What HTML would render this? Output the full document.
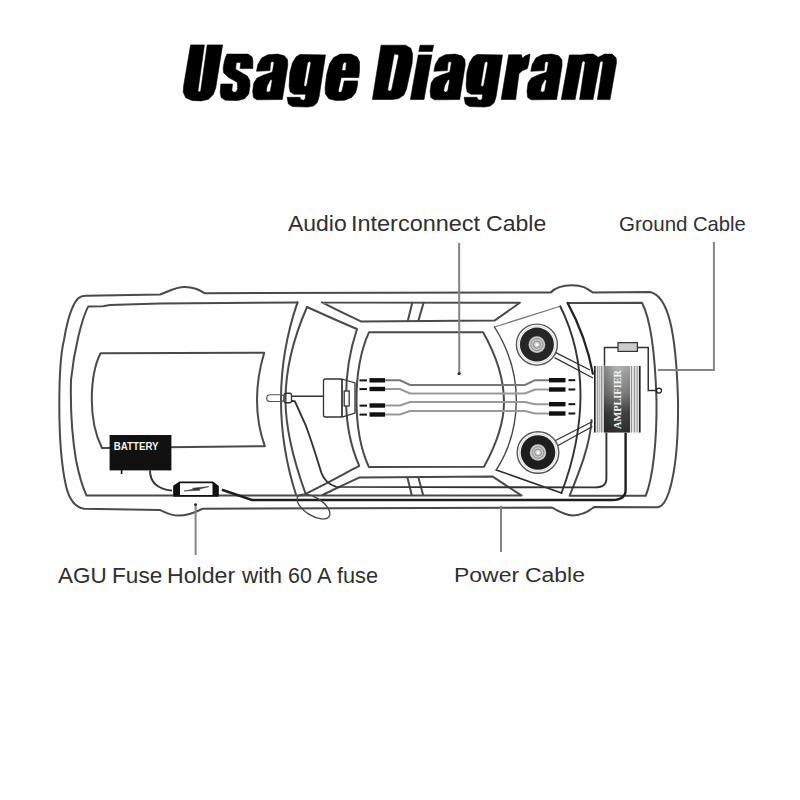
<!DOCTYPE html>
<html><head><meta charset="utf-8">
<style>
html,body{margin:0;padding:0;background:#fff;width:800px;height:800px;overflow:hidden}
.w{position:absolute;font-family:"Liberation Sans",sans-serif;color:#303030;white-space:nowrap;line-height:1;transform-origin:0 0}
svg{position:absolute;left:0;top:0}
</style></head><body>
<div class="w" style="left:287.75px;top:212.9px;font-size:21.23px;transform:scaleX(1.081)">Audio</div>
<div class="w" style="left:350.99px;top:212.9px;font-size:21.23px;transform:scaleX(1.105)">Interconnect</div>
<div class="w" style="left:485.75px;top:212.9px;font-size:21.23px;transform:scaleX(1.086)">Cable</div>
<div class="w" style="left:618.97px;top:214.0px;font-size:20.87px;transform:scaleX(0.985)">Ground</div>
<div class="w" style="left:692.99px;top:214.0px;font-size:20.87px;transform:scaleX(0.970)">Cable</div>
<div class="w" style="left:58.00px;top:564.61px;font-size:21.16px;transform:scaleX(1.063)">AGU</div>
<div class="w" style="left:111.69px;top:564.61px;font-size:21.16px;transform:scaleX(1.069)">Fuse</div>
<div class="w" style="left:167.15px;top:564.61px;font-size:21.16px;transform:scaleX(1.094)">Holder</div>
<div class="w" style="left:241.50px;top:564.61px;font-size:21.16px;transform:scaleX(1.064)">with</div>
<div class="w" style="left:287.68px;top:564.61px;font-size:21.16px;transform:scaleX(1.012)">60</div>
<div class="w" style="left:316.90px;top:564.61px;font-size:21.16px;transform:scaleX(1.028)">A</div>
<div class="w" style="left:337.28px;top:564.61px;font-size:21.16px;transform:scaleX(1.027)">fuse</div>
<div class="w" style="left:453.66px;top:564.5px;font-size:20.58px;transform:scaleX(1.117)">Power</div>
<div class="w" style="left:525.05px;top:564.5px;font-size:20.58px;transform:scaleX(1.115)">Cable</div>
<svg width="800" height="800" viewBox="0 0 800 800">
<path fill="#000" fill-rule="evenodd" stroke="#000" stroke-width="0.6" stroke-linejoin="round" d="M190.6,44.9 L204.4,44.9 L197.9,91.2 L199.5,92.0 L200.7,90.8 L207.2,44.9 L222.6,44.9 L215.7,87.9 L213.3,94.4 L208.4,99.3 L201.1,100.9 L192.2,100.5 L185.7,97.7 L183.2,92.0 L183.7,85.5 Z M227.0,54.1 L248.0,54.1 L252.1,56.9 L252.8,60.3 L252.8,68.6 L240.1,68.6 L240.8,62.4 L236.3,62.4 L235.6,69.2 L247.3,76.1 L249.7,80.2 L250.0,85.7 L248.7,94.0 L244.6,98.8 L237.7,100.5 L225.3,100.2 L221.2,97.4 L220.2,92.6 L220.8,84.0 L232.5,84.0 L231.8,90.5 L233.6,92.3 L236.3,91.9 L237.7,88.5 L237.3,82.3 L228.7,77.5 L223.6,72.7 L223.2,67.9 L224.3,61.7 L225.3,57.9 Z M256.5,71.3 L257.9,64.4 L261.7,57.9 L267.9,54.8 L277.5,54.1 L284.4,55.8 L287.5,59.6 L287.8,65.1 L282.3,99.5 L256.9,99.8 L253.4,97.4 L252.7,91.2 L253.8,83.0 L256.9,78.2 L263.7,75.1 L272.0,72.3 L272.7,70.6 L274.1,62.4 L272.3,61.5 L270.6,62.4 L269.9,70.6 Z M270.6,79.6 L272.3,80.2 L270.3,91.2 L267.9,92.3 L266.2,90.9 L267.2,85.7 Z M300.0,54.5 L325.5,54.9 L319.1,96.5 L317.3,102.5 L313.5,105.9 L307.5,107.0 L292.5,106.6 L288.4,104.0 L287.2,98.0 L287.2,97.3 L300.0,97.3 L300.8,99.5 L303.4,100.3 L305.2,98.8 L305.6,94.2 L294.0,94.2 L290.2,92.0 L289.1,86.0 L289.9,72.5 L292.5,62.8 L296.2,56.8 Z M309.8,61.2 L310.9,63.1 L306.8,85.2 L305.2,86.8 L303.8,85.2 L307.5,62.8 Z M340.6,54.1 L350.9,54.1 L357.1,56.9 L359.5,61.7 L359.5,70.6 L358.8,77.5 L341.2,77.5 L338.2,91.2 L339.9,92.6 L341.9,91.2 L344.3,80.9 L357.7,80.9 L357.4,85.7 L355.7,92.6 L351.6,97.4 L344.7,100.2 L335.7,100.5 L328.9,98.8 L325.4,94.0 L325.1,87.1 L326.8,74.1 L329.6,63.7 L333.7,57.6 Z M344.0,62.0 L346.4,62.7 L345.7,70.6 L341.9,70.6 L342.6,65.1 Z M381.1,45.2 L405.6,45.2 L410.9,48.3 L412.6,54.0 L412.2,62.8 L406.5,89.0 L403.9,95.1 L398.6,98.6 L392.5,99.5 L372.4,99.5 Z M394.2,54.0 L398.2,54.4 L398.6,56.6 L391.6,89.9 L389.9,91.2 L387.7,90.3 L388.1,87.2 Z M420.1,45.2 L433.6,45.2 L432.3,51.4 L418.8,51.4 Z M418.3,54.9 L431.9,54.9 L424.0,99.5 L410.4,99.5 Z M433.9,71.3 L435.3,64.4 L439.1,57.9 L445.3,54.8 L454.9,54.1 L461.8,55.8 L464.9,59.6 L465.2,65.1 L459.7,99.5 L434.3,99.8 L430.8,97.4 L430.1,91.2 L431.2,83.0 L434.3,78.2 L441.1,75.1 L449.4,72.3 L450.1,70.6 L451.5,62.4 L449.7,61.5 L448.0,62.4 L447.3,70.6 Z M448.0,79.6 L449.7,80.2 L447.7,91.2 L445.3,92.3 L443.6,90.9 L444.6,85.7 Z M477.0,54.5 L502.5,54.9 L496.1,96.5 L494.3,102.5 L490.5,105.9 L484.5,107.0 L469.5,106.6 L465.4,104.0 L464.2,98.0 L464.2,97.3 L477.0,97.3 L477.8,99.5 L480.4,100.3 L482.2,98.8 L482.6,94.2 L471.0,94.2 L467.2,92.0 L466.1,86.0 L466.9,72.5 L469.5,62.8 L473.2,56.8 Z M486.8,61.2 L487.9,63.1 L483.8,85.2 L482.2,86.8 L480.8,85.2 L484.5,62.8 Z M508.7,54.8 L521.5,54.8 L522.1,58.2 L525.9,55.5 L530.0,54.1 L528.7,63.7 L527.3,68.6 L522.5,70.6 L519.0,73.4 L515.6,99.5 L501.2,99.5 Z M530.8,71.3 L532.2,64.4 L536.0,57.9 L542.2,54.8 L551.8,54.1 L558.7,55.8 L561.8,59.6 L562.1,65.1 L556.6,99.5 L531.2,99.8 L527.7,97.4 L527.0,91.2 L528.1,83.0 L531.2,78.2 L538.0,75.1 L546.3,72.3 L547.0,70.6 L548.4,62.4 L546.6,61.5 L544.9,62.4 L544.2,70.6 Z M544.9,79.6 L546.6,80.2 L544.6,91.2 L542.2,92.3 L540.5,90.9 L541.5,85.7 Z M569.4,54.9 L582.0,54.9 L586.9,54.1 L593.4,54.1 L598.2,57.3 L604.7,54.1 L612.0,54.1 L616.1,57.8 L616.5,62.6 L610.0,99.6 L597.4,99.6 L603.1,62.2 L601.5,61.0 L599.9,62.2 L593.0,99.6 L579.6,99.6 L585.2,62.2 L583.6,61.0 L582.0,62.2 L575.1,99.6 L561.3,99.6 Z"/>
<defs>
<linearGradient id="ampg" x1="0" y1="0" x2="0" y2="1">
<stop offset="0" stop-color="#b4b4b4"/><stop offset="0.4" stop-color="#858585"/><stop offset="0.7" stop-color="#454545"/><stop offset="1" stop-color="#303030"/>
</linearGradient>
<linearGradient id="ampg2" x1="0" y1="0" x2="1" y2="0">
<stop offset="0" stop-color="#000" stop-opacity="0.25"/><stop offset="0.5" stop-color="#000" stop-opacity="0"/><stop offset="1" stop-color="#000" stop-opacity="0.1"/>
</linearGradient>
</defs>
<g fill="none" stroke="#4a4a4a" stroke-width="2" stroke-linejoin="round" stroke-linecap="round">
<!-- outer body -->
<path d="M86,295.8 L160,294.5 C168,292 175,287 184.5,287 C194,287 199,290 204.6,293.2 L550.75,292.5 C555,288 560,285.25 571.75,285.25 C583,285.25 587,288.5 592.75,292.5 L650,292 C668,296 676,330 678,400 C678.5,440 676,470 669,492 C666,501 663,506.5 658,507.3 L594,507 C588,512 580,515.4 573,515.4 C565,515.4 558,511 552,507.5 L202.5,508.75 C196,512 188,515.6 178.75,515.6 C170,515.6 165,512 160,510 L84,508.8 C74,507 69,499 66,486 C61.5,466 59.3,440 59.3,405 C59.3,375 61,352 64,340 C66.5,325 71,306 78,298.5 C80.5,296.3 83,295.8 86,295.8 Z"/>
<!-- inner body left part -->
<path d="M297.5,302.4 L160,303.6 L110,304.9 L103,306.2 L88.25,306.4 C82,318 74,350 71,380 C70.5,400 71,430 76,460 C79,475 83,488 86.5,495.5 L300,495.6"/>
<!-- inner body top middle band -->
<path d="M322,302.4 L519.9,302.75 L494.5,320.6 L361.4,321.6 C345,314 333,308 322,302.4"/>
<!-- inner body right (trunk) -->
<path d="M567.6,302.9 L642,302.75 C650,318 655,350 656.5,400 C657,440 653,478 645.75,495.75 L569.6,495.75 C580,470 590,445 591.5,420"/>
<path d="M567.6,302.9 C578,322 588,348 592.9,373.75" stroke-width="2.2" stroke="#222"/>
<!-- bottom middle band -->
<path d="M300,495.6 L521.6,495.6 L492.75,476.6 L359.25,477.6 C345,484 333,490 322,495.2"/>
<!-- dividers -->
<path d="M412.25,302.75 L407.9,320.6 M423.6,302.75 L418.4,320.6 M407.4,477.6 L411.75,495.1 M418.4,477.6 L423.1,495.1"/>
<!-- hood rect -->
<path d="M100.5,353.25 L264.2,352.75 C259,370 257,385 257,400 C257,415 259,430 264.8,446.2 L102,448 C95.5,435 91.8,420 91.8,400 C91.8,380 94.5,365 100.5,353.25 Z"/>
<!-- windshield -->
<path d="M297.5,302.4 C288,330 281,365 281,400 C281,435 288,470 296.25,495.5"/>
<path d="M307,307 C297,330 285.5,365 285.5,400 C285.5,435 297,470 305.6,493.75"/>
<path d="M307,307 C325,315 340,322 357,329 C350,350 346,375 346,398 C346,425 350,445 359.25,465.9 C340,476 322,486 305.6,493.75"/>
<!-- cabin -->
<path d="M369,332.2 L483.1,332.2 C496,355 504,380 504,402 C504,422 496,445 484,466.8 L368.9,467.1 C361,450 356.5,425 356.5,400 C356.5,375 361,350 369,332.2 Z"/>
</g>
<g fill="none" stroke-linejoin="round" stroke-linecap="round">
<!-- parcel shelf -->
<path d="M494.5,327 L560.25,306.25" stroke="#777" stroke-width="1.3"/>
<path d="M560.25,306.25 C572,330 580.5,360 580.5,395 C580.5,430 572,465 561.5,493" stroke="#333" stroke-width="1.9"/>
<path d="M561.5,493 L496.25,469.9" stroke="#2a2a2a" stroke-width="1.6"/>
<path d="M496.25,469.9 C509,450 516.3,425 516.3,400 C516.3,375 509,350 494.5,327" stroke="#444" stroke-width="1.4"/>
</g>
<!-- speakers -->
<g>
<circle cx="536.9" cy="344.6" r="20.5" fill="#fff" stroke="#555" stroke-width="1.4"/>
<circle cx="536.9" cy="344.6" r="18.3" fill="none" stroke="#ccc" stroke-width="0.8"/>
<circle cx="536.9" cy="344.6" r="17" fill="#262626"/>
<circle cx="536.9" cy="344.6" r="8.4" fill="#c8c8c8"/>
<circle cx="536.9" cy="344.6" r="6" fill="none" stroke="#888" stroke-width="0.9"/>
<circle cx="536.9" cy="344.6" r="3.6" fill="none" stroke="#888" stroke-width="0.9"/>
<circle cx="536.9" cy="344.6" r="1.6" fill="#fff"/>
<circle cx="538" cy="452.5" r="20.8" fill="#fff" stroke="#555" stroke-width="1.4"/>
<circle cx="538" cy="452.5" r="18.6" fill="none" stroke="#ccc" stroke-width="0.8"/>
<circle cx="538" cy="452.5" r="17.3" fill="#1e1e1e"/>
<circle cx="538" cy="452.5" r="8.2" fill="#c8c8c8"/>
<circle cx="538" cy="452.5" r="5.8" fill="none" stroke="#888" stroke-width="0.9"/>
<circle cx="538" cy="452.5" r="3.5" fill="none" stroke="#888" stroke-width="0.9"/>
<circle cx="538" cy="452.5" r="1.6" fill="#fff"/>
</g>
<g fill="none" stroke="#333" stroke-width="1.3">
<!-- speaker wires -->
<path d="M555.8,352.6 L590,370 M554.5,357.6 L593,378"/>
<path d="M555.5,440.5 L592.5,421.5 M558,445.5 L592.5,426.5"/>
</g>
<!-- RCA cables -->
<g fill="none" stroke="#999" stroke-width="2">
<path d="M385,380.3 L400,380.3 L410,385 L525,385 L535,380.2 L549,380.2" stroke="#777"/>
<path d="M385,389 L400,389 L410,393.5 L525,393.5 L535,389.5 L549,389.5"/>
<path d="M385,405.5 L400,405.5 L410,402 L525,402 L535,404.2 L549,404.2"/>
<path d="M385,414.5 L400,414.5 L410,411 L525,411 L535,413.5 L549,413.5"/>
</g>
<g fill="#111">
<rect x="369.5" y="378.1" width="15.5" height="4.4"/>
<rect x="369.5" y="386.8" width="15.5" height="4.4"/>
<rect x="369.5" y="403.3" width="15.5" height="4.4"/>
<rect x="369.5" y="412.3" width="15.5" height="4.4"/>
<rect x="359.5" y="379.4" width="7.5" height="2"/>
<rect x="359.5" y="388.1" width="7.5" height="2"/>
<rect x="359.5" y="404.6" width="7.5" height="2"/>
<rect x="359.5" y="413.6" width="7.5" height="2"/>
<rect x="549" y="378" width="16.5" height="4.4"/>
<rect x="549" y="387.3" width="16.5" height="4.4"/>
<rect x="549" y="402" width="16.5" height="4.4"/>
<rect x="549" y="411.3" width="16.5" height="4.4"/>
<rect x="568.5" y="379.2" width="6.75" height="2"/>
<rect x="568.5" y="388.5" width="6.75" height="2"/>
<rect x="568.5" y="403.2" width="6.75" height="2"/>
<rect x="568.5" y="412.5" width="6.75" height="2"/>
</g>
<!-- head unit -->
<g fill="#fff" stroke="#333" stroke-width="1.3">
<rect x="323.5" y="379" width="18.5" height="38" rx="2"/>
<path d="M342,379 L355,383 L355,413 L342,417 Z" fill="none"/>
<rect x="344.2" y="391" width="5" height="15"/>
<path d="M323.5,396.25 L291.5,396.25" fill="none"/>
<rect x="284" y="393.25" width="7.5" height="9.5" rx="2" fill="none"/>
<rect x="266.75" y="394.75" width="17.25" height="6.75" rx="3.3" fill="none" stroke="#555" stroke-width="1.2"/>
</g>
<!-- wires -->
<g fill="none" stroke="#333" stroke-width="1.9">
<path d="M291.5,401 C293,401 294,400.5 295,401.5 L305.6,425 C312,442 318,462 321.25,472.5 C323.5,479 327,484 336.25,486.9 L595,487.4 C603,487 606.4,485 606.4,478 L606.4,432.4"/>
<path d="M150,470.4 C150,482 158,489 172,490.6"/>
<path d="M221.9,489.75 L251.9,500 L612,500 C620,500 625.6,497 625.6,490 L625.6,432.4" stroke-width="2.4" stroke="#1e1e1e"/>
<ellipse cx="313.5" cy="506.5" rx="18.5" ry="9" transform="rotate(32 313.5 506.5)" stroke-width="1.3" stroke="#444"/>
<path d="M604.5,365.7 L604.5,347.4 L618,347.4 M637.4,347.4 L648.25,347.4 L648.25,390.6 L656.5,390.6" stroke-width="1.5"/>
</g>
<circle cx="659" cy="390.6" r="2.5" fill="#fff" stroke="#1a1a1a" stroke-width="1.2"/>
<rect x="618" y="342.65" width="19.4" height="8.75" fill="#ccc" stroke="#333" stroke-width="1.2"/>
<!-- fuse holder -->
<path d="M180,482.3 L212.5,482.3 L218,486.5 L218,495.8 L174,495.8 L174,486.3 Z" fill="#fff" stroke="#111" stroke-width="1.7" stroke-linejoin="round"/>
<path d="M180,482.3 L174,486.3 L174,495.8 L180,495.8 Z M212.5,482.3 L218,486.5 L218,495.8 L212.5,495.8 Z" fill="#111"/>
<path d="M184,491 L193.5,489.2 L192.5,488.2 L209,486.6 L199,489.2 L200,490.2 Z" fill="#333" stroke="#444" stroke-width="0.6"/>
<!-- battery -->
<rect x="109.6" y="435" width="61.8" height="35.4" fill="#111"/>
<rect x="120.8" y="470" width="1.6" height="4" fill="#111"/>
<text x="113.8" y="450.3" font-family="Liberation Sans" font-weight="bold" font-size="11.3" fill="#f2f2f2" textLength="44.7" lengthAdjust="spacingAndGlyphs">BATTERY</text>
<!-- amplifier -->
<rect x="594" y="366" width="46.5" height="66.5" fill="#e2e2e2"/>
<rect x="604" y="366" width="26" height="66.5" fill="url(#ampg)"/>
<rect x="604" y="366" width="26" height="66.5" fill="url(#ampg2)"/>
<g stroke-width="0.9" fill="none">
<path d="M594.8,366 V432.5 M639.8,366 V432.5" stroke="#222" stroke-width="1.6"/>
<path d="M597.6,366 V432.5 M601.5,366 V432.5 M631.5,366 V432.5 M634.5,366 V432.5 M637.2,366 V432.5" stroke="#8a8a8a"/>
<path d="M599.6,366 V432.5 M603,366 V432.5" stroke="#aaa"/>
</g>
<text transform="translate(620.5,429) rotate(-90)" font-family="Liberation Serif" font-weight="bold" font-size="10" fill="#f4f4f4" textLength="59" lengthAdjust="spacingAndGlyphs">AMPLIFIER</text>
<!-- pointers -->
<g fill="none" stroke="#858585" stroke-width="2">
<path d="M459.1,243 L459.3,373.6"/>
<path d="M713.9,242 L713.9,370 L657.9,370"/>
<path d="M195.6,504.4 L195.6,555"/>
<path d="M501,505.75 L501,552"/>
</g>
<circle cx="459.1" cy="373.6" r="1.7" fill="#333"/>
<circle cx="195.6" cy="504.6" r="1.4" fill="#222"/>
</svg>
</body></html>
